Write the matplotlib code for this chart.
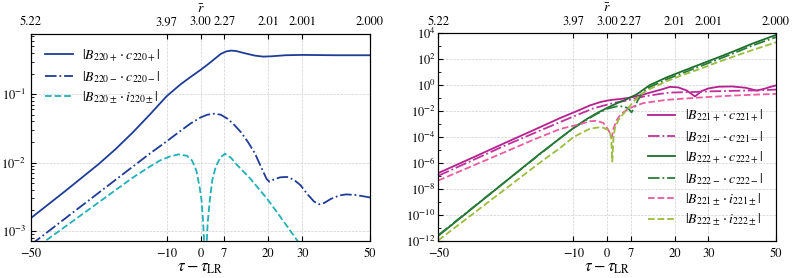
import numpy as np
import matplotlib
matplotlib.use("Agg")
import matplotlib.pyplot as plt
from matplotlib.ticker import NullFormatter, FixedLocator

plt.rcParams['font.family'] = ['STIXGeneral', 'DejaVu Serif']
plt.rcParams['mathtext.fontset'] = 'stix'

# ---------------- data ----------------
xticks = [-50, -10, 0, 7, 20, 30, 50]
xtick_labels = ['\u221250', '\u221210', '0', '7', '20', '30', '50']
rbar_labels = ['5.22', '3.97', '3.00', '2.27', '2.01', '2.001', '2.000']

# left panel (log10 of the amplitudes)
t_220p = [-50, -40, -30, -25, -20, -15, -10, -6, -3, 0, 2, 4, 6, 7.5, 9, 10.5, 13, 16, 18.5, 21, 25, 30, 40, 50]
l_220p = [-2.81, -2.42, -2.02, -1.80, -1.56, -1.30, -1.03, -0.86, -0.75, -0.645, -0.57, -0.49, -0.41, -0.375,
          -0.362, -0.368, -0.40, -0.435, -0.45, -0.445, -0.43, -0.425, -0.43, -0.43]

t_220m = [-50, -40, -30, -20, -15, -10, -6, -3, 0, 2, 4, 6, 8, 10, 12, 14, 16, 18, 19.5, 20.3, 21.5, 23.5,
          25.5, 27.5, 29.5, 31.5, 33.5, 35, 36.5, 38.5, 41, 43, 46, 50]
l_220m = [-3.2, -2.82, -2.44, -2.06, -1.87, -1.69, -1.54, -1.43, -1.34, -1.30, -1.285, -1.30, -1.36, -1.45,
          -1.56, -1.70, -1.86, -2.08, -2.24, -2.28, -2.25, -2.215, -2.21, -2.25, -2.33, -2.46, -2.57, -2.61,
          -2.59, -2.53, -2.48, -2.465, -2.475, -2.51]

t_220i = [-50, -45.9, -40, -30, -20, -15, -12, -9, -6.5, -4, -2.5, -1.2, -0.2, 0.3, 0.8, 1.2, 1.45, 1.7, 2.1,
          2.8, 3.5, 4.5, 5.8, 7.2, 9, 10.7, 14.6, 19.5, 23.5, 28.4, 30]
l_220i = [-3.3, -3.15, -2.94, -2.58, -2.22, -2.06, -1.97, -1.91, -1.88, -1.90, -1.97, -2.12, -2.38, -2.55,
          -2.89, -3.3, -5.0, -3.3, -2.89, -2.52, -2.25, -2.06, -1.93, -1.87, -1.93, -2.03, -2.23, -2.52,
          -2.79, -3.13, -3.25]

# right panel (log10 of the amplitudes)
t_221p = [-50, -40, -30, -20, -14, -9, -5, -2, 0, 1.8, 4, 5.8, 8, 10.7, 13, 15.7, 18.6, 21, 23.5, 26, 28,
          30, 33, 37, 41, 44.3, 46.5, 48.5, 50]
l_221p = [-6.77, -5.6, -4.42, -3.25, -2.54, -2.0, -1.55, -1.3, -1.19, -1.12, -1.06, -1.0, -0.89, -0.72,
          -0.55, -0.36, -0.13, -0.17, -0.4, -0.87, -0.45, -0.25, -0.12, -0.1, -0.2, -0.42, -0.28, -0.12, -0.02]

t_221m = [-50, -30, -14, -8, -4, 0, 1.8, 5.8, 10.7, 15.7, 18.6, 22, 26, 30, 35, 40, 45, 50]
l_221m = [-6.98, -4.62, -2.85, -2.2, -1.78, -1.5, -1.38, -1.18, -0.88, -0.67, -0.57, -0.55, -0.52, -0.48,
          -0.45, -0.42, -0.40, -0.34]

t_222p = [-50, -40, -30, -20, -13.5, -10, -6, -3, 0, 3, 5.8, 8.8, 12.6, 17.6, 22, 27.5, 32, 37.4, 43, 50]
l_222p = [-11.6, -9.5, -7.4, -5.3, -4.0, -3.3, -2.6, -2.15, -1.75, -1.38, -1.08, -0.7, 0.0, 0.6, 1.05, 1.6,
          2.05, 2.6, 3.2, 3.87]

t_222m = [-50, -40, -30, -20, -13.5, -10, -6, -3, 0, 3, 5, 6.3, 7.2, 8, 9, 10.5, 12.6, 17.6, 22, 27.5, 32,
          37.4, 43, 50]
l_222m = [-11.55, -9.47, -7.4, -5.33, -4.0, -3.32, -2.65, -2.2, -1.82, -1.62, -1.65, -1.8, -2.1, -1.75,
          -1.2, -0.55, -0.15, 0.45, 0.9, 1.45, 1.9, 2.45, 3.05, 3.7]

t_221i = [-50, -40, -30, -21.9, -14, -8, -5.1, -3.1, -1.1, 0.35, 1.0, 1.35, 1.55, 1.8, 2.8, 4, 5.8, 7.7,
          10.7, 12.6, 17.6, 22, 27.5, 32, 37.4, 43, 50]
l_221i = [-7.34, -6.23, -5.12, -4.21, -3.38, -3.0, -2.78, -2.74, -2.92, -3.44, -3.8, -4.0, -3.8, -3.4,
          -2.7, -2.25, -1.9, -1.65, -1.38, -1.31, -1.13, -1.05, -0.95, -0.88, -0.8, -0.74, -0.67]

t_222i = [-50, -40, -30, -20, -14, -10, -5.1, -2.5, -1.1, 0.2, 0.85, 1.2, 1.52, 1.85, 2.3, 3.3, 4.8,
          7.7, 10, 12.6, 17.6, 22, 27.5, 32, 37.4, 43, 50]
l_222i = [-11.95, -9.96, -7.97, -5.98, -4.85, -4.0, -3.35, -3.25, -3.28, -3.45, -3.7, -4.1, -5.88, -4.1,
          -3.3, -2.7, -2.2, -1.3, -0.7, -0.3, 0.3, 0.75, 1.25, 1.7, 2.2, 2.7, 3.3]

# ---------------- figure ----------------
fig = plt.figure(figsize=(7.93, 2.78), dpi=100)
axL = fig.add_axes([0.0391, 0.1313, 0.4275, 0.7467])
axR = fig.add_axes([0.5527, 0.1331, 0.4259, 0.7474])

c_navy = '#1f3c96'
c_cyan = '#22b0b8'
c_mag = '#b5208f'
c_mag2 = '#c0309b'
c_pink = '#ec5aa0'
c_dg = '#1d6e2c'
c_dg2 = '#2a7d3a'
c_yg = '#9cbc3e'
lw = 1.3


def p(ax, t, l, **kw):
    ax.plot(t, 10.0 ** np.asarray(l), lw=lw, **kw)


p(axL, t_220p, l_220p, color=c_navy, ls='-', label=r'$|B_{220+}\cdot c_{220+}|$')
p(axL, t_220m, l_220m, color=c_navy, ls='-.', label=r'$|B_{220-}\cdot c_{220-}|$')
p(axL, t_220i, l_220i, color=c_cyan, ls='--', label=r'$|B_{220\pm}\cdot i_{220\pm}|$')

p(axR, t_221p, l_221p, color=c_mag, ls='-', label=r'$|B_{221+}\cdot c_{221+}|$')
p(axR, t_221m, l_221m, color=c_mag2, ls='-.', label=r'$|B_{221-}\cdot c_{221-}|$')
p(axR, t_222p, l_222p, color=c_dg, ls='-', label=r'$|B_{222+}\cdot c_{222+}|$')
p(axR, t_222m, l_222m, color=c_dg2, ls='-.', label=r'$|B_{222-}\cdot c_{222-}|$')
p(axR, t_221i, l_221i, color=c_pink, ls='--', label=r'$|B_{221\pm}\cdot i_{221\pm}|$')
p(axR, t_222i, l_222i, color=c_yg, ls='--', label=r'$|B_{222\pm}\cdot i_{222\pm}|$')

axL.set_ylim(10 ** -3.154, 10 ** -0.118)
axR.set_ylim(1e-12, 1e4)

for ax in (axL, axR):
    ax.set_yscale('log')
    ax.set_xlim(-50, 50)
    ax.set_xticks(xticks)
    ax.set_xticklabels(xtick_labels)
    ax.set_xlabel(r'$\tau-\tau_{\rm LR}$', fontsize=12, labelpad=0)
    ax.grid(True, which='major', ls='--', lw=0.5, color='#d0d0d0')
    ax.tick_params(which='both', direction='in', labelsize=9)
    ax.tick_params(axis='x', which='major', pad=5)
    top = ax.twiny()
    top.set_xlim(-50, 50)
    top.set_xticks(xticks)
    top.set_xticklabels(rbar_labels)
    top.tick_params(direction='in', labelsize=9, pad=4)
    top.set_xlabel(r'$\bar{r}$', fontsize=10, labelpad=2.5)

axR.yaxis.set_major_locator(FixedLocator([10.0 ** k for k in range(-12, 5, 2)]))
axR.yaxis.set_minor_locator(FixedLocator([10.0 ** k for k in range(-12, 5)]))
axR.yaxis.set_minor_formatter(NullFormatter())
axR.tick_params(axis='y', which='major', pad=2)

axL.legend(loc='upper left', frameon=False, fontsize=10, handlelength=2.0, handletextpad=0.7,
           borderaxespad=0.6, labelspacing=0.35)
axR.legend(loc='lower right', frameon=False, fontsize=10, handlelength=2.0, handletextpad=0.7,
           borderaxespad=0.5, labelspacing=0.35)

fig.savefig('out.png', dpi=100)
